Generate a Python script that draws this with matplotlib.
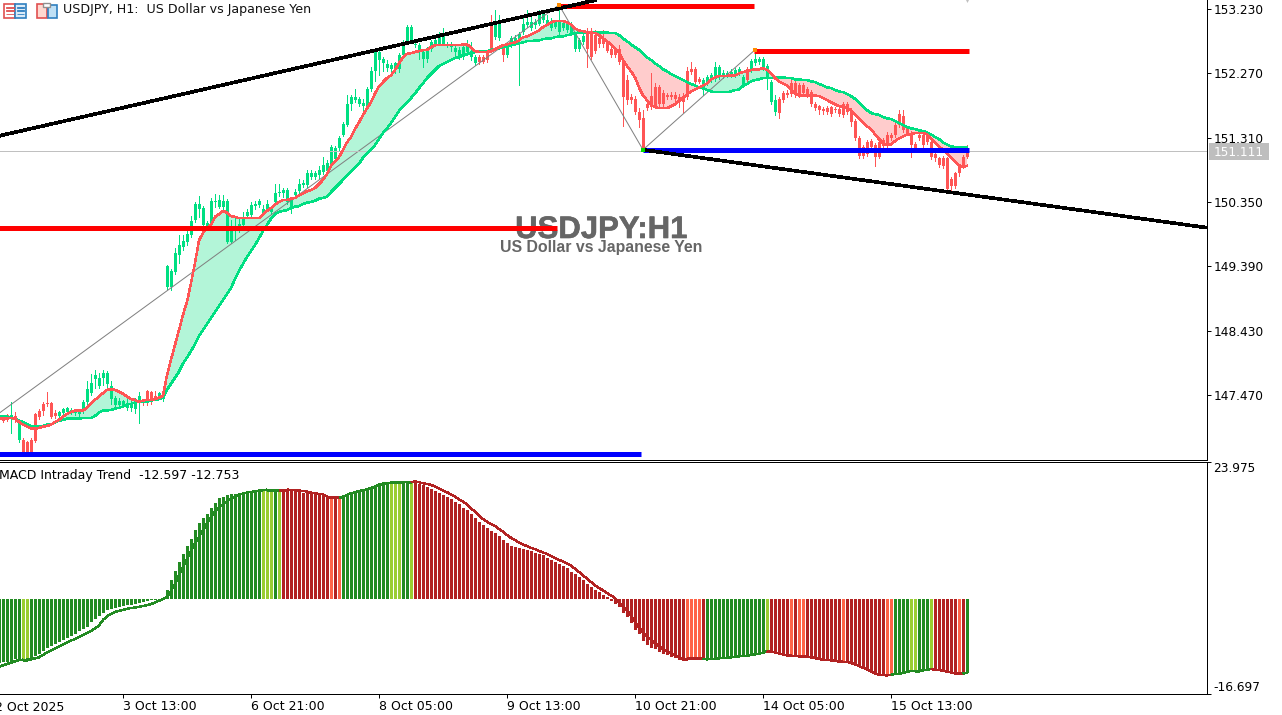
import matplotlib
matplotlib.use("Agg")
import matplotlib.pyplot as plt
import matplotlib.patheffects as pe
from matplotlib.patches import Rectangle

# Candles, one hour per bar (first bar sits half outside the left edge)
opens = [
    147.18,
    147.15,147.18,147.13,147.16,146.80,146.80,146.77,146.80,147.19,147.24,
    147.34,147.36,147.36,147.21,147.16,147.21,147.22,147.22,147.21,147.19,
    147.24,147.37,147.50,147.71,147.61,147.73,147.64,147.41,147.33,147.33,
    147.33,147.28,147.28,147.27,147.37,147.39,147.53,147.52,147.46,147.46,
    147.41,149.08,149.08,149.31,149.56,149.68,149.75,149.86,150.08,150.25,
    150.01,150.00,150.01,150.35,150.28,150.28,149.75,149.75,149.93,149.93,
    150.01,150.14,150.16,150.29,150.31,150.19,150.25,150.20,150.35,150.48,
    150.48,150.35,150.26,150.45,150.51,150.60,150.60,150.72,150.72,150.75,
    150.80,150.81,150.92,150.99,151.15,151.35,151.50,151.82,151.87,151.82,
    151.79,151.79,152.04,152.30,152.47,152.42,152.35,152.34,152.34,152.34,
    152.54,152.74,152.76,152.69,152.59,152.49,152.49,152.64,152.71,152.71,
    152.71,152.69,152.66,152.59,152.52,152.52,152.59,152.52,152.42,152.51,
    152.51,152.59,152.97,152.81,152.79,152.66,152.54,152.69,152.74,152.77,
    152.89,152.99,152.94,152.99,153.01,153.06,153.01,152.94,152.96,152.89,
    152.94,152.91,152.86,152.64,152.64,152.74,152.86,152.86,152.84,152.79,
    152.79,152.74,152.64,152.64,152.64,152.44,152.17,151.92,151.88,151.70,
    151.60,151.82,151.93,152.07,152.07,151.97,151.95,151.94,151.95,151.92,
    151.93,152.31,152.34,152.34,152.18,152.02,152.12,152.17,152.19,152.22,
    152.23,152.24,152.24,152.24,152.27,152.09,152.34,152.32,152.42,152.44,
    152.36,152.19,151.84,151.70,151.89,151.97,151.97,152.12,152.12,152.09,
    152.10,152.04,151.99,151.82,151.78,151.74,151.76,151.77,151.74,151.74,
    151.81,151.82,151.72,151.56,151.30,151.17,151.25,151.26,151.20,151.25,
    151.28,151.35,151.35,151.50,151.67,151.63,151.45,151.38,151.22,151.35,
    151.35,151.35,151.25,151.06,151.00,151.00,151.00,150.70,150.78,150.87,
    151.02,151.11]
closes = [
    147.10,
    147.09,147.10,147.18,147.10,147.07,146.62,146.62,146.62,146.79,147.15,
    147.24,147.34,147.15,147.16,147.22,147.27,147.28,147.25,147.24,147.22,
    147.37,147.56,147.65,147.77,147.73,147.80,147.80,147.61,147.43,147.39,
    147.39,147.33,147.36,147.37,147.46,147.36,147.36,147.37,147.43,147.50,
    147.46,149.40,149.32,149.59,149.71,149.77,149.87,150.07,150.32,150.32,
    150.26,150.04,150.37,150.37,150.38,150.37,150.37,149.95,149.98,150.02,
    150.13,150.20,150.31,150.32,150.37,150.25,150.32,150.26,150.48,150.50,
    150.53,150.53,150.38,150.50,150.62,150.63,150.78,150.78,150.78,150.83,
    150.90,150.93,151.17,151.15,151.30,151.51,151.82,151.91,151.91,151.89,
    151.83,152.04,152.31,152.59,152.59,152.48,152.41,152.39,152.42,152.54,
    152.71,152.96,152.96,152.71,152.69,152.59,152.61,152.74,152.76,152.84,
    152.86,152.71,152.71,152.65,152.62,152.66,152.71,152.61,152.51,152.44,
    152.44,152.47,152.61,153.02,153.01,152.54,152.69,152.79,152.79,152.86,
    153.01,153.04,153.04,153.04,153.16,153.16,153.07,153.05,153.04,153.04,
    153.02,153.01,153.01,152.86,152.76,152.82,152.64,152.52,152.61,152.71,
    152.71,152.61,152.54,152.54,152.44,151.92,151.87,151.87,151.70,151.57,
    151.15,151.75,151.77,151.79,151.82,151.82,151.92,151.91,151.89,151.87,
    151.85,151.92,152.29,152.14,152.14,152.17,152.22,152.24,152.37,152.37,
    152.28,152.27,152.29,152.32,152.33,152.21,152.17,152.46,152.48,152.49,
    152.48,152.38,152.14,151.87,151.68,151.87,151.94,151.96,151.94,151.94,
    151.97,151.94,151.82,151.76,151.72,151.71,151.69,151.67,151.72,151.66,
    151.65,151.69,151.55,151.30,151.03,151.03,151.07,151.17,151.02,151.02,
    151.18,151.18,151.30,151.35,151.50,151.42,151.37,151.20,151.16,151.30,
    151.20,151.25,151.02,151.01,150.90,150.89,150.54,150.59,150.59,150.78,
    150.89,151.02]
highs = [
    147.19,
    147.18,147.19,147.37,147.22,147.10,146.83,146.79,146.83,147.21,147.27,
    147.37,147.52,147.37,147.25,147.24,147.28,147.30,147.28,147.27,147.27,
    147.40,147.68,147.79,147.85,147.80,147.85,147.83,147.68,147.46,147.42,
    147.40,147.43,147.40,147.43,147.52,147.40,147.55,147.53,147.53,147.52,
    147.49,149.41,149.35,149.67,149.86,149.86,149.92,150.14,150.35,150.44,
    150.29,150.07,150.41,150.47,150.45,150.45,150.40,150.08,150.13,150.11,
    150.20,150.25,150.35,150.37,150.40,150.31,150.38,150.29,150.62,150.62,
    150.56,150.56,150.43,150.54,150.69,150.68,150.83,150.83,150.81,150.89,
    151.02,150.98,151.20,151.18,151.33,151.55,151.94,151.94,152.04,151.92,
    151.89,152.07,152.37,152.62,152.62,152.51,152.47,152.42,152.44,152.57,
    152.76,152.99,152.99,152.74,152.72,152.62,152.66,152.76,152.81,152.89,
    152.94,152.74,152.74,152.69,152.66,152.71,152.76,152.74,152.54,152.54,
    152.55,152.62,153.14,153.21,153.14,152.71,152.72,152.82,152.84,152.89,
    153.09,153.21,153.11,153.08,153.21,153.19,153.14,153.09,153.07,153.29,
    153.06,153.04,153.04,152.89,152.79,152.86,152.94,152.94,152.91,152.82,
    152.92,152.76,152.66,152.66,152.69,152.47,152.24,151.96,151.93,151.76,
    151.72,151.86,152.27,152.12,152.10,152.02,151.98,151.99,151.99,151.96,
    151.97,152.37,152.44,152.37,152.22,152.20,152.25,152.27,152.44,152.39,
    152.32,152.31,152.34,152.35,152.36,152.24,152.37,152.49,152.59,152.52,
    152.51,152.41,152.17,151.94,151.92,152.00,152.02,152.17,152.15,152.12,
    152.13,152.07,152.02,151.84,151.80,151.77,151.78,151.79,151.77,151.77,
    151.84,151.85,151.75,151.59,151.33,151.20,151.28,151.29,151.23,151.28,
    151.31,151.40,151.38,151.55,151.72,151.73,151.47,151.41,151.25,151.38,
    151.38,151.37,151.27,151.09,151.02,151.03,151.02,150.72,150.80,150.90,
    151.05,151.20]
lows = [
    147.07,
    147.07,147.09,146.91,147.07,146.77,146.61,146.61,146.61,146.77,147.12,
    147.18,147.31,147.13,147.13,147.13,147.18,147.19,147.19,147.18,147.13,
    147.21,147.34,147.47,147.58,147.58,147.62,147.58,147.34,147.30,147.30,
    147.30,147.25,147.24,147.21,147.06,147.33,147.33,147.34,147.40,147.43,
    147.38,149.05,149.04,149.28,149.44,149.63,149.71,149.83,150.05,150.13,
    149.98,149.96,149.98,150.28,150.26,150.25,149.74,149.74,149.78,149.90,
    149.98,150.11,150.13,150.25,150.28,150.16,150.22,150.17,150.32,150.44,
    150.42,150.32,150.19,150.42,150.48,150.57,150.57,150.69,150.69,150.71,
    150.77,150.78,150.90,150.96,151.12,151.33,151.48,151.72,151.84,151.79,
    151.72,151.75,152.01,152.15,152.25,152.30,152.30,152.31,152.28,152.29,
    152.51,152.71,152.74,152.66,152.49,152.37,152.44,152.61,152.69,152.69,
    152.69,152.66,152.61,152.54,152.49,152.49,152.54,152.47,152.39,152.41,
    152.42,152.44,152.59,152.78,152.76,152.46,152.51,152.66,152.71,152.09,
    152.85,152.96,152.91,152.94,152.99,153.04,152.99,152.92,152.94,152.86,
    152.91,152.89,152.84,152.61,152.61,152.71,152.37,152.48,152.58,152.66,
    152.66,152.59,152.51,152.52,152.41,151.48,151.81,151.83,151.67,151.47,
    151.13,151.73,151.74,151.76,151.79,151.79,151.89,151.88,151.85,151.77,
    151.70,151.89,152.26,152.11,152.12,151.95,152.09,152.14,152.16,152.19,
    152.20,152.21,152.21,152.21,152.24,152.06,152.12,152.29,152.39,152.41,
    152.32,152.04,151.81,151.65,151.60,151.84,151.91,151.93,151.91,151.91,
    151.94,151.91,151.79,151.72,151.66,151.66,151.66,151.63,151.69,151.64,
    151.62,151.67,151.49,151.27,151.01,151.00,151.04,151.14,150.89,151.00,
    151.15,151.15,151.27,151.32,151.47,151.39,151.35,151.02,151.13,151.27,
    151.17,151.22,150.99,150.96,150.87,150.86,150.52,150.52,150.56,150.74,
    150.86,151.00]

# Moving averages
ma_fast = [
    147.12,
    147.12,147.13,147.13,147.12,147.07,147.03,147.00,146.97,146.97,146.98,
    147.00,147.01,147.03,147.07,147.10,147.15,147.19,147.22,147.24,147.24,
    147.24,147.28,147.34,147.40,147.45,147.50,147.55,147.56,147.55,147.52,
    147.49,147.45,147.41,147.40,147.37,147.39,147.40,147.40,147.41,147.43,
    147.46,147.77,148.00,148.22,148.44,148.67,148.86,149.14,149.44,149.78,
    149.89,149.95,150.01,150.13,150.17,150.22,150.19,150.14,150.13,150.11,
    150.11,150.11,150.11,150.11,150.11,150.17,150.22,150.26,150.31,150.35,
    150.38,150.38,150.40,150.41,150.45,150.48,150.51,150.53,150.56,150.62,
    150.68,150.77,150.89,150.96,151.02,151.13,151.24,151.32,151.44,151.54,
    151.65,151.75,151.84,151.97,152.08,152.14,152.20,152.24,152.32,152.42,
    152.51,152.56,152.57,152.59,152.60,152.62,152.62,152.66,152.69,152.69,
    152.69,152.69,152.69,152.69,152.69,152.70,152.70,152.66,152.60,152.59,
    152.59,152.59,152.60,152.63,152.66,152.69,152.70,152.72,152.73,152.76,
    152.81,152.82,152.85,152.88,152.91,152.96,152.99,153.03,153.05,153.05,
    153.05,153.03,153.00,152.94,152.91,152.90,152.88,152.88,152.87,152.84,
    152.79,152.75,152.70,152.64,152.59,152.47,152.38,152.30,152.21,152.06,
    151.94,151.87,151.80,151.77,151.75,151.75,151.75,151.78,151.81,151.86,
    151.90,151.96,152.00,152.03,152.06,152.09,152.12,152.18,152.21,152.23,
    152.23,152.23,152.24,152.24,152.27,152.29,152.30,152.32,152.33,152.33,
    152.35,152.32,152.27,152.20,152.15,152.12,152.09,152.03,151.97,151.94,
    151.94,151.94,151.94,151.94,151.93,151.90,151.87,151.84,151.81,151.78,
    151.77,151.75,151.72,151.66,151.60,151.54,151.48,151.44,151.36,151.29,
    151.23,151.20,151.21,151.26,151.30,151.33,151.36,151.36,151.38,151.38,
    151.38,151.36,151.30,151.24,151.18,151.13,151.07,151.01,150.96,150.90,
    150.87,150.89]
ma_slow = [
    147.15,
    147.15,147.15,147.13,147.12,147.09,147.07,147.04,147.01,147.01,147.01,
    147.01,147.03,147.03,147.06,147.09,147.10,147.12,147.12,147.12,147.12,
    147.13,147.13,147.13,147.16,147.21,147.24,147.24,147.25,147.27,147.28,
    147.30,147.33,147.34,147.36,147.37,147.37,147.37,147.39,147.40,147.41,
    147.43,147.55,147.64,147.73,147.82,147.94,148.03,148.13,148.23,148.35,
    148.44,148.53,148.62,148.71,148.80,148.89,148.98,149.07,149.20,149.32,
    149.43,149.53,149.62,149.71,149.81,149.92,150.01,150.10,150.17,150.20,
    150.22,150.23,150.26,150.28,150.29,150.32,150.34,150.35,150.37,150.40,
    150.41,150.43,150.50,150.56,150.62,150.68,150.75,150.81,150.86,150.92,
    151.01,151.07,151.13,151.20,151.29,151.38,151.45,151.53,151.62,151.71,
    151.77,151.83,151.90,151.97,152.05,152.12,152.20,152.26,152.32,152.38,
    152.41,152.44,152.47,152.50,152.51,152.54,152.56,152.57,152.59,152.60,
    152.60,152.60,152.62,152.63,152.64,152.66,152.67,152.69,152.70,152.72,
    152.73,152.75,152.75,152.76,152.76,152.78,152.79,152.79,152.81,152.82,
    152.82,152.84,152.85,152.87,152.88,152.88,152.88,152.88,152.88,152.88,
    152.88,152.88,152.87,152.87,152.84,152.79,152.75,152.70,152.66,152.62,
    152.56,152.51,152.47,152.42,152.38,152.33,152.30,152.26,152.23,152.20,
    152.17,152.14,152.11,152.09,152.06,152.05,152.02,152.00,151.99,151.99,
    151.99,151.99,152.00,152.02,152.03,152.08,152.11,152.15,152.17,152.18,
    152.20,152.20,152.20,152.21,152.21,152.21,152.20,152.20,152.18,152.18,
    152.17,152.17,152.15,152.14,152.11,152.09,152.06,152.05,152.02,152.00,
    151.99,151.96,151.93,151.89,151.83,151.77,151.72,151.68,151.66,151.65,
    151.62,151.60,151.59,151.56,151.53,151.50,151.47,151.45,151.44,151.42,
    151.41,151.39,151.36,151.32,151.29,151.24,151.21,151.18,151.17,151.17,
    151.17,151.17]

# MACD histogram and signal line
macd_hist = [
    -11.30,
    -11.15,-11.04,-10.86,-10.62,-10.57,-10.51,-10.51,-10.45,-9.98,-9.69,
    -9.10,-8.69,-8.34,-7.92,-7.63,-7.22,-6.87,-6.46,-6.16,-5.69,
    -5.28,-4.87,-4.11,-3.52,-2.94,-2.47,-2.05,-1.82,-1.58,-1.47,
    -1.35,-1.17,-1.06,-0.88,-0.76,-0.59,-0.47,-0.29,-0.18,-0.06,
    0.12,1.58,3.23,4.87,6.46,7.81,9.27,10.45,12.03,13.21,
    14.09,14.79,15.85,16.73,17.61,17.90,18.20,18.31,18.43,18.49,
    18.61,18.73,18.78,18.90,18.96,19.02,19.08,19.08,19.08,19.08,
    19.08,19.02,18.90,18.84,18.73,18.61,18.49,18.43,18.37,18.26,
    18.08,18.02,18.02,18.02,17.96,17.90,18.31,18.67,18.96,19.08,
    19.02,19.19,19.37,19.90,20.25,20.43,20.43,20.37,20.37,20.37,
    20.43,20.55,20.55,20.37,20.13,19.96,19.55,19.25,18.90,18.49,
    18.20,17.79,17.49,17.02,16.55,15.97,15.56,14.85,14.09,13.50,
    12.91,12.33,11.92,11.56,10.98,10.27,9.69,9.33,9.10,8.98,
    8.81,8.51,8.34,8.04,7.87,7.63,7.22,6.87,6.46,6.05,
    5.69,5.40,4.70,4.29,3.82,3.23,2.52,2.05,1.47,1.17,
    0.59,0.23,-0.35,-0.94,-1.47,-2.52,-3.23,-4.29,-5.40,-6.16,
    -7.45,-8.04,-8.63,-8.75,-9.33,-9.69,-9.80,-10.27,-10.39,-10.68,
    -10.92,-10.74,-10.74,-10.74,-10.74,-10.74,-10.74,-10.62,-10.57,-10.57,
    -10.51,-10.39,-10.33,-10.21,-10.10,-10.04,-9.98,-9.86,-9.74,-9.69,
    -9.51,-9.22,-9.22,-9.39,-9.57,-9.80,-10.04,-10.10,-10.16,-10.21,
    -10.21,-10.21,-10.39,-10.45,-10.68,-10.74,-10.80,-10.86,-10.98,-11.09,
    -10.98,-11.09,-11.27,-11.56,-11.92,-12.27,-12.62,-12.91,-13.32,-13.44,
    -13.50,-13.56,-13.32,-13.21,-13.15,-13.03,-12.74,-12.62,-12.62,-12.62,
    -12.56,-12.44,-12.27,-12.50,-12.50,-12.68,-12.86,-13.09,-13.21,-13.32,
    -13.09,-13.03]
macd_signal = [
    -11.90,
    -11.68,-11.45,-11.20,-10.98,-10.74,-10.68,-10.68,-10.62,-10.45,-10.27,
    -9.86,-9.39,-9.04,-8.69,-8.34,-8.04,-7.69,-7.34,-7.04,-6.69,
    -6.34,-5.99,-5.64,-5.22,-4.70,-3.70,-3.11,-2.64,-2.29,-2.11,
    -1.94,-1.76,-1.64,-1.53,-1.41,-1.29,-1.12,-0.94,-0.65,-0.35,
    -0.06,0.29,1.35,2.64,4.11,5.58,7.04,8.39,9.69,10.86,
    12.03,13.21,14.38,15.26,15.97,16.55,17.02,17.61,17.96,18.26,
    18.43,18.61,18.73,18.84,18.96,19.02,19.14,19.14,19.14,19.14,
    19.14,19.14,19.08,19.02,18.96,18.90,18.78,18.61,18.49,18.37,
    18.31,17.90,17.90,17.90,17.90,17.90,18.20,18.49,18.67,18.90,
    19.02,19.20,19.43,19.66,19.96,20.13,20.25,20.37,20.43,20.43,
    20.43,20.49,20.49,20.55,20.43,20.25,20.13,19.96,19.66,19.37,
    18.96,18.67,18.31,17.90,17.43,17.02,16.55,15.85,15.26,14.67,
    13.97,13.50,13.09,12.74,12.21,11.74,11.15,10.68,10.27,9.86,
    9.51,9.22,8.92,8.69,8.39,8.10,7.87,7.51,7.16,6.81,
    6.52,6.22,5.81,5.28,4.70,4.11,3.52,2.94,2.35,1.88,
    1.47,1.00,0.59,0.12,-0.59,-1.29,-2.05,-2.94,-3.99,-4.99,
    -5.87,-6.57,-7.16,-7.75,-8.34,-8.80,-9.22,-9.57,-9.92,-10.27,
    -10.51,-10.51,-10.45,-10.45,-10.45,-10.51,-10.62,-10.57,-10.51,-10.45,
    -10.39,-10.33,-10.27,-10.16,-10.10,-10.04,-9.98,-9.86,-9.74,-9.63,
    -9.45,-9.22,-9.27,-9.39,-9.57,-9.74,-9.92,-9.98,-10.04,-10.10,
    -10.10,-10.16,-10.27,-10.39,-10.57,-10.68,-10.74,-10.80,-10.92,-10.98,
    -11.04,-11.09,-11.27,-11.51,-11.80,-12.09,-12.44,-12.74,-13.09,-13.32,
    -13.38,-13.44,-13.32,-13.21,-13.15,-13.03,-12.80,-12.68,-12.62,-12.62,
    -12.56,-12.44,-12.33,-12.44,-12.50,-12.62,-12.80,-12.91,-13.09,-13.15,
    -13.09,-13.03]
# (state, number of bars) from left to right
hist_runs = [('g',6),('y',2),('g',58),('y',3),('g',1),('y',1),('r',12),('o',1),('r',1),
             ('o',1),('g',12),('y',3),('g',2),('y',1),('r',68),('o',4),('r',1),('g',15),
             ('y',1),('r',5),('o',1),('r',1),('o',2),('r',9),('o',1),('r',10),('o',2),
             ('g',4),('y',2),('g',3),('y',1),('r',6),('o',1),('r',1),('g',1)]

# Chart objects, (bar, price)
trend_up = [(-0.75, 151.34), (148, 153.36)]
trend_down = [(160, 151.13), (300.75, 149.97)]
zigzag = [(-0.75, 147.21), (139, 153.29), (160, 151.13), (188, 152.62)]
red_levels = [(-1, 138.5, 149.96), (138.5, 187.75, 153.27), (187.75, 241.5, 152.61)]
blue_levels = [(-1, 159.5, 146.59), (160, 241.5, 151.12)]

price_ticks = [147.47, 148.43, 149.39, 150.35, 151.31, 152.27, 153.23]
bid = 151.111
time_ticks = [30, 62, 94, 126, 158, 190, 222]
time_labels = ['3 Oct 13:00', '6 Oct 21:00', '8 Oct 05:00', '9 Oct 13:00',
               '10 Oct 21:00', '14 Oct 05:00', '15 Oct 13:00']

W, H = 1282, 715
GREEN = '#00DF82'
RED = '#FF5555'
PX = 0.72  # one pixel in points at dpi 100
STATE_COLORS = {'g': '#228B22', 'y': '#9ACD32', 'r': '#B22222', 'o': '#FF6347'}
plt.rcParams['font.family'] = ['DejaVu Sans']
plt.rcParams['font.size'] = 8.7

fig = plt.figure(figsize=(W / 100, H / 100), dpi=100, facecolor='white')


def panel(top, bottom):
    return fig.add_axes([0, 1 - bottom / H, 1206.5 / W, (bottom - top) / H])


ax = panel(0, 459.5)
sub = panel(462, 694)
bars = list(range(-1, len(opens) - 1))

# Price panel
ax.fill_between(bars, ma_fast, ma_slow, where=[f >= s for f, s in zip(ma_fast, ma_slow)],
                interpolate=True, color='#B3F5D8', lw=0, zorder=1)
ax.fill_between(bars, ma_fast, ma_slow, where=[f <= s for f, s in zip(ma_fast, ma_slow)],
                interpolate=True, color='#FFCCCC', lw=0, zorder=1)

candle_colors = [GREEN if c >= o else RED for o, c in zip(opens, closes)]
ax.vlines(bars, lows, highs, colors=candle_colors, lw=PX, antialiased=False, zorder=2)
ax.bar(bars, [abs(c - o) for o, c in zip(opens, closes)],
       bottom=[min(o, c) for o, c in zip(opens, closes)],
       width=0.75, color=candle_colors, lw=0, antialiased=False, zorder=2)

ax.plot(*zip(*zigzag), color='#808080', lw=PX, zorder=3)
ax.plot(bars, ma_slow, color=GREEN, lw=1.5 * PX, antialiased=False, zorder=4)
ax.plot(bars, ma_fast, color=RED, lw=1.5 * PX, antialiased=False, zorder=4)
ax.axhline(bid, color='#C0C0C0', lw=PX, antialiased=False, zorder=3)

# baselines in panel fractions, so that the two lines sit as in the reference
ax.text(0.4985, 0.482, 'USDJPY:H1', transform=ax.transAxes, ha='center', va='baseline',
        family='Liberation Sans', weight='bold', fontsize=22.4, color='#666666', zorder=5,
        path_effects=[pe.withStroke(linewidth=0.4, foreground='#666666')])
ax.text(0.4985, 0.4516, 'US Dollar vs Japanese Yen', transform=ax.transAxes, ha='center',
        va='baseline', family='Liberation Sans', weight='bold', fontsize=11.4, color='#666666',
        zorder=5)

for x0, x1, y in red_levels:
    ax.plot([x0, x1], [y, y], color='#FF0000', lw=5 * PX, solid_capstyle='butt', zorder=6)
for x0, x1, y in blue_levels:
    ax.plot([x0, x1], [y, y], color='#0000FF', lw=5 * PX, solid_capstyle='butt', zorder=6)
ax.plot(*zip(*trend_up), color='black', lw=2.6 * PX, antialiased=False, zorder=7)
ax.plot(*zip(*trend_down), color='black', lw=2.6 * PX, antialiased=False, zorder=7)
ax.plot([139, 188], [153.29, 152.62], ls='none', marker='s', ms=5 * PX, color='#FF8C00',
        mew=0, zorder=8)
ax.plot([160], [151.13], ls='none', marker='s', ms=5 * PX, color='#00E000', mew=0, zorder=8)
ax.plot([241], [153.36], ls='none', marker='v', ms=5 * PX, color='#C0C0C0', mew=0, zorder=8)

ax.set_xlim(-0.75, 300.875)
ax.set_ylim(146.51, 153.364)
ax.yaxis.tick_right()
ax.set_yticks(price_ticks)
ax.set_yticklabels([f'{p:.3f}' for p in price_ticks])
ax.set_xticks([])

# MACD panel
hist_states = [state for state, count in hist_runs for _ in range(count)]
sub.bar(bars, macd_hist, width=0.75, color=[STATE_COLORS[s] for s in hist_states], lw=0,
        antialiased=False, zorder=2)
for i in range(len(bars) - 1):
    line_color = '#228B22' if hist_states[i + 1] in 'gy' else '#B22222'
    sub.plot(bars[i:i + 2], macd_signal[i:i + 2], color=line_color, lw=1.4 * PX,
             solid_capstyle='butt', antialiased=False, zorder=3)
sub.set_xlim(-0.75, 300.875)
sub.set_ylim(-16.697, 23.975)
sub.yaxis.tick_right()
sub.set_yticks([-16.697, 23.975])
sub.set_yticklabels(['-16.697', '23.975'])
sub.get_yticklabels()[0].set_va('bottom')
sub.get_yticklabels()[1].set_va('top')
sub.set_xticks(time_ticks)
sub.set_xticklabels(time_labels, ha='left', fontsize=9)
sub.text(-2, -0.03, '2 Oct 2025', transform=sub.get_xaxis_transform(), ha='left', va='top',
         fontsize=9, clip_on=False)
sub.text(-0.001, 0.94, 'MACD Intraday Trend  -12.597 -12.753', transform=sub.transAxes,
         ha='left', va='center', fontsize=9)

for a in (ax, sub):
    a.spines['top'].set_visible(a is sub)
    a.spines['left'].set_visible(False)
    a.spines['bottom'].set_linewidth(PX)
    a.spines['right'].set_linewidth(PX)
    a.spines['top'].set_linewidth(PX)
    a.tick_params(length=3, width=PX, pad=2)
    a.set_facecolor('white')
sub.tick_params(axis='x', pad=1.5)

# Toolbar text and icons at the top left
fig.text(63 / W, 1 - 10 / H, 'USDJPY, H1:  US Dollar vs Japanese Yen', ha='left', va='center',
         color='#111111', fontsize=9.1)


def box(x, y, w, h, edge, face, lw=1.2):
    fig.add_artist(Rectangle((x / W, 1 - (y + h) / H), w / W, h / H, transform=fig.transFigure,
                             ec=edge, fc=face, lw=lw))


box(4, 4, 11, 13.5, '#E05050', 'white')
box(15, 4, 10.5, 13.5, '#2F7FBF', '#DCEBF7')
for y in (7.5, 10.5, 13.5):
    box(6, y, 8, 0.8, '#E05050', '#E05050', lw=0.6)
    box(17, y, 7, 0.8, '#2F7FBF', '#2F7FBF', lw=0.6)
box(37, 4, 10, 14, '#E05050', '#FFD8D0')
box(48, 5, 9, 13, '#2F7FBF', '#BFE0F5')
box(43, 3, 7, 4, '#909090', 'white', lw=1)

# Bid price label on the axis
box(1209, 143, 60, 17, 'none', '#BEBEBE', lw=0)
fig.text(1239 / W, 1 - 152 / H, f'{bid:.3f}', ha='center', va='center', color='white', zorder=5)

fig.savefig('out.png', dpi=100)
